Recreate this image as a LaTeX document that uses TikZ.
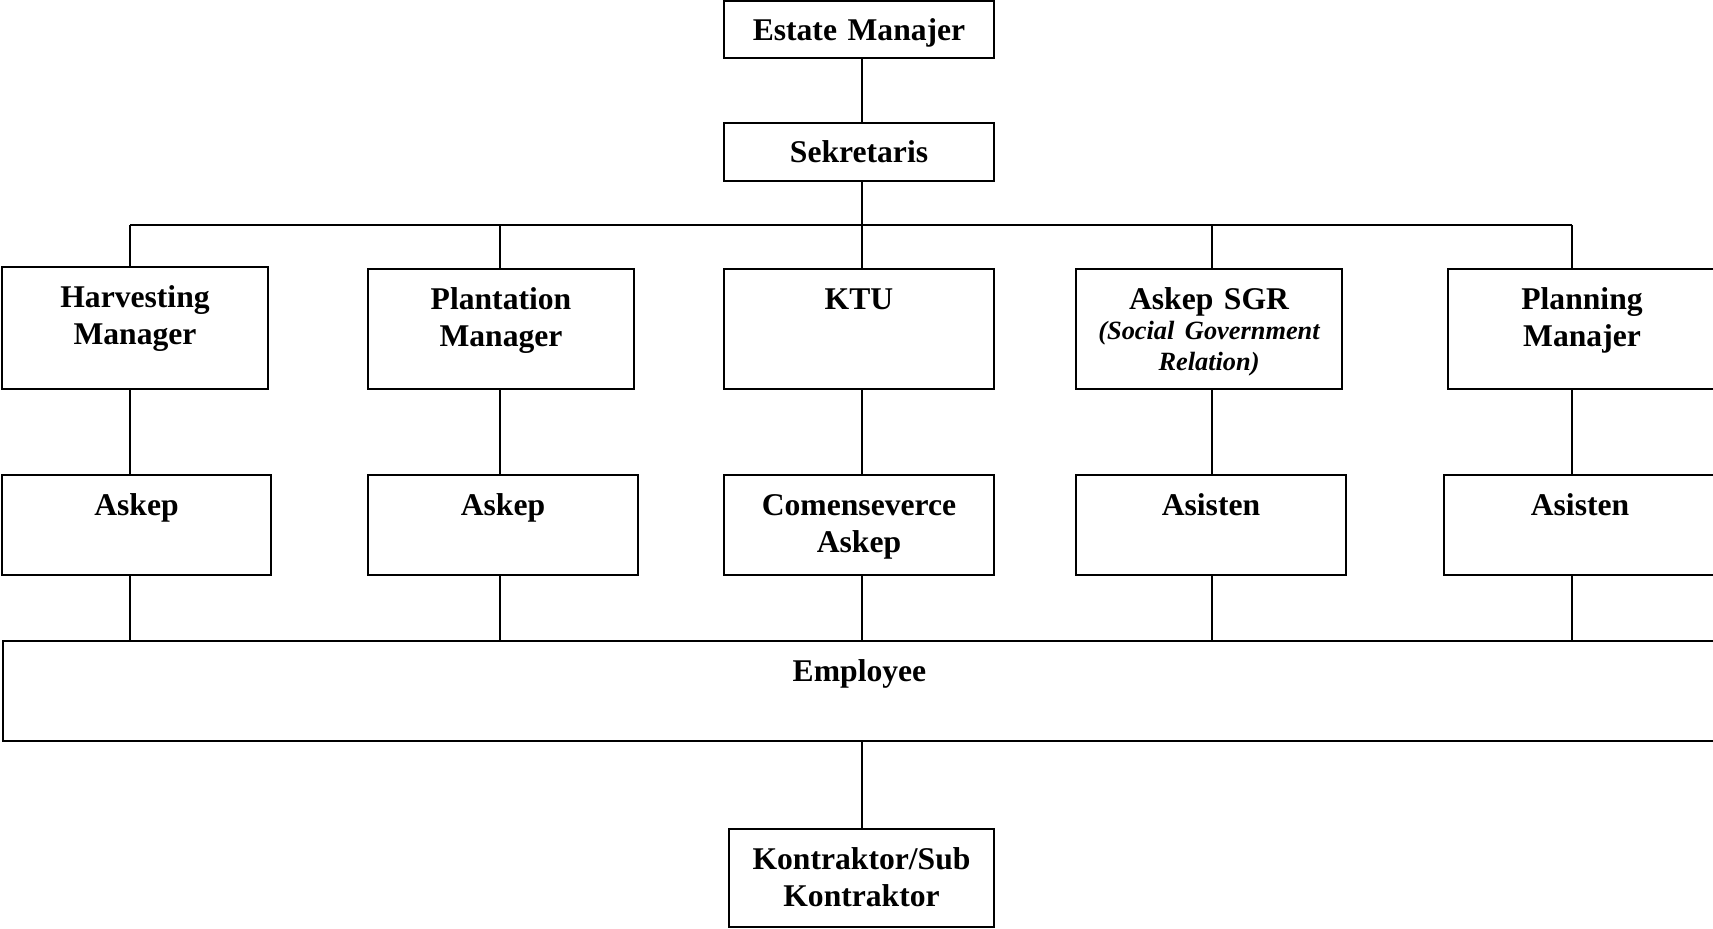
\documentclass[tikz,border=0pt]{standalone}
\usepackage{fontspec}
\setmainfont{Liberation Serif}
\usetikzlibrary{positioning}

\tikzset{
  unit/.style={draw, line width=1.1pt, inner sep=0pt, align=center,
    text height=0.8cm, font=\bfseries\fontsize{18}{21.3}\selectfont},
  link/.style={line width=0.9pt},
}
\newcommand{\sgrfont}{\fontsize{15}{17.6}\selectfont\itshape}

\begin{document}
\begin{tikzpicture}[x=0.02cm, y=-0.02cm]
  \useasboundingbox (0,0) rectangle (1713,929);
  % top
  \node[unit, text width=5.4cm, text depth=0.34cm] (em) at (859,29.5) {Estate Manajer};
  \node[unit, text width=5.4cm, text depth=0.36cm] (sek) at (859,152) {Sekretaris};
  % managers
  \node[unit, text width=5.32cm, text depth=1.64cm] (harv) at (135,328) {Harvesting\\Manager};
  \node[unit, text width=5.32cm, text depth=1.6cm] (plant) at (501,329) {Plantation\\Manager};
  \node[unit, text width=5.4cm, text depth=1.6cm] (ktu) at (859,329) {KTU};
  \node[unit, text width=5.32cm, text depth=1.6cm] (sgr) at (1209,329) {Askep SGR\\\sgrfont(Social Government\\Relation)\par};
  \node[unit, text width=5.36cm, text depth=1.6cm] (plan) at (1582,329) {Planning\\Manajer};
  % askep / asisten
  \node[unit, text width=5.38cm, text depth=1.2cm] (ask1) at (136.5,525) {Askep};
  \node[unit, text width=5.4cm, text depth=1.2cm] (ask2) at (503,525) {Askep};
  \node[unit, text width=5.4cm, text depth=1.2cm] (com) at (859,525) {Comenseverce\\Askep};
  \node[unit, text width=5.4cm, text depth=1.2cm] (asi1) at (1211,525) {Asisten};
  \node[unit, text width=5.44cm, text depth=1.2cm] (asi2) at (1580,525) {Asisten};
  % employee
  \node[unit, text width=34.26cm, text depth=1.2cm] (emp) at (859.5,691) {Employee};
  \node[unit, text width=5.3cm, text depth=1.16cm] (kon) at (861.5,878) {Kontraktor/Sub\\Kontraktor};
  % bus
  \coordinate (b1) at (130,225);
  \coordinate (b2) at (500,225);
  \coordinate (b3) at (862,225);
  \coordinate (b4) at (1212,225);
  \coordinate (b5) at (1572,225);
  \draw[link] (b1) -- (b5);
  \draw[link] (em.south -| b3) -- (sek.north -| b3);
  \draw[link] (sek.south -| b3) -- (b3);
  % harvesting
  \draw[link] (b1) -- (b1 |- harv.north);
  \draw[link] (harv.south -| b1) -- (ask1.north -| b1);
  \draw[link] (ask1.south -| b1) -- (emp.north -| b1);
  % plantation
  \draw[link] (b2) -- (b2 |- plant.north);
  \draw[link] (plant.south -| b2) -- (ask2.north -| b2);
  \draw[link] (ask2.south -| b2) -- (emp.north -| b2);
  % KTU
  \draw[link] (b3) -- (b3 |- ktu.north);
  \draw[link] (ktu.south -| b3) -- (com.north -| b3);
  \draw[link] (com.south -| b3) -- (emp.north -| b3);
  % SGR
  \draw[link] (b4) -- (b4 |- sgr.north);
  \draw[link] (sgr.south -| b4) -- (asi1.north -| b4);
  \draw[link] (asi1.south -| b4) -- (emp.north -| b4);
  % planning
  \draw[link] (b5) -- (b5 |- plan.north);
  \draw[link] (plan.south -| b5) -- (asi2.north -| b5);
  \draw[link] (asi2.south -| b5) -- (emp.north -| b5);
  % kontraktor
  \draw[link] (emp.south -| b3) -- (kon.north -| b3);
\end{tikzpicture}
\end{document}
